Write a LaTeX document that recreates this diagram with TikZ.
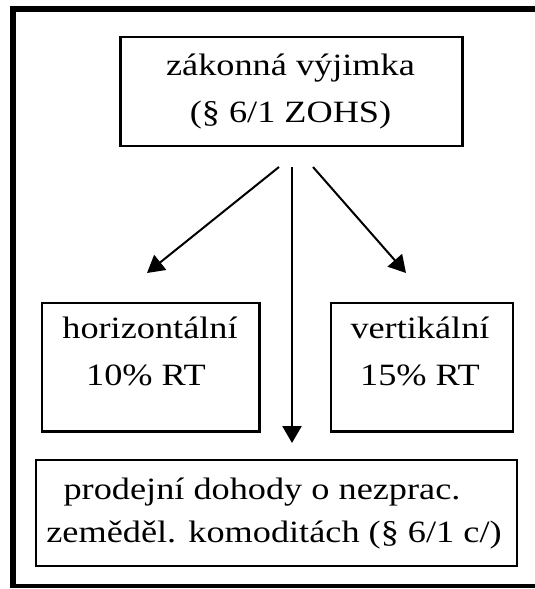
\documentclass[tikz,border=0pt]{standalone}
\usepackage{fontspec}
\setmainfont[FakeStretch=1.17]{Liberation Serif}
\usetikzlibrary{arrows.meta}
\begin{document}
\begin{tikzpicture}[x=1pt,y=-1pt,
  box/.style={draw,line width=2.8pt,inner sep=0pt},
  txt/.style={anchor=base,inner sep=0pt,font=\fontsize{31}{47}\selectfont},
  arr/.style={line width=2pt,-{Triangle[length=17pt,width=19pt]}}]
\useasboundingbox (0,0) rectangle (535,589);
% outer frame (open on the right)
\fill (10,6) rectangle (535,12);
\fill (10,6) rectangle (16,587);
\fill (10,583.5) rectangle (535,587.5);
% boxes
\node[box,minimum width=342pt,minimum height=109pt] (top) at (291.5,91.5) {};
\node[box,minimum width=217.5pt,minimum height=128.5pt] (hor) at (150.75,367.25) {};
\node[box,minimum width=182pt,minimum height=128.5pt] (ver) at (422,367.25) {};
\node[box,minimum width=481pt,minimum height=106pt] (pro) at (276.5,513) {};
% texts
\node[txt] (t1) at (290.5,75) {zákonná výjimka};
\node[txt] (t2) at (290.5,122) {(§ 6/1 ZOHS)};
\node[txt] (h1) at (150,338) {horizontální};
\node[txt] (h2) at (146,385) {10\% RT};
\node[txt] (v1) at (420,338) {vertikální};
\node[txt] (v2) at (420,385) {15\% RT};
\node[txt] (p1) at (262,499) {prodejní dohody o nezprac.};
\node[txt] (p2) at (274,542) {zeměděl. komoditách (§ 6/1 c/)};
% connectors
\coordinate (ls) at (279,167);
\coordinate (le) at (147,273);
\coordinate (ms) at (292,167);
\coordinate (me) at (292,443);
\coordinate (rs) at (313,167);
\coordinate (re) at (406,273);
\draw[arr] (ls) -- (le);
\draw[arr,line width=2.6pt] (ms) -- (me);
\draw[arr] (rs) -- (re);
\end{tikzpicture}
\end{document}
